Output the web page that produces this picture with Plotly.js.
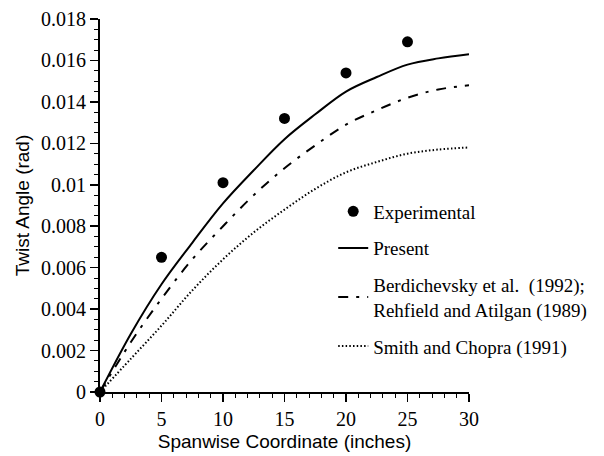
<!DOCTYPE html>
<html>
<head>
<meta charset="utf-8">
<script src="https://cdn.plot.ly/plotly-3.0.1.min.js"></script>
<style>html,body{margin:0;padding:0;background:#fff;}#chart{width:604px;height:456px;}</style>
</head>
<body>
<div id="chart"></div>
<script>
// Experimental data
const expX = [0, 5, 10, 15, 20, 25];
const expY = [0, 0.0065, 0.0101, 0.0132, 0.0154, 0.0169];

// Curves
const curveX = [0, 2.5, 5, 7.5, 10, 12.5, 15, 17.5, 20, 22.5, 25, 27.5, 30];
const presentY = [0, 0.0028, 0.0052, 0.0072, 0.0091, 0.0107, 0.0122, 0.0134, 0.0145, 0.0152, 0.0158, 0.0161, 0.0163];
const berdY    = [0, 0.0024, 0.0045, 0.0064, 0.0080, 0.0095, 0.0108, 0.0119, 0.0129, 0.0136, 0.0142, 0.0146, 0.0148];
const smithY   = [0, 0.0016, 0.0032, 0.0049, 0.0064, 0.0077, 0.0088, 0.0098, 0.0106, 0.0111, 0.0115, 0.0117, 0.0118];

const seriesNames = ['Experimental', 'Present', 'Berdichevsky et al.  (1992);<br>Rehfield and Atilgan (1989)', 'Smith and Chopra (1991)'];

const xTickVals = [0, 5, 10, 15, 20, 25, 30];
const yTickVals = [0, 0.002, 0.004, 0.006, 0.008, 0.01, 0.012, 0.014, 0.016, 0.018];
const yTickText = ['0', '0.002', '0.004', '0.006', '0.008', '0.01', '0.012', '0.014', '0.016', '0.018'];

const traces = [
  {x: expX, y: expY, name: seriesNames[0], mode: 'markers', type: 'scatter', legendgroup: 'a',
   marker: {color: '#000', size: 11}, cliponaxis: false},
  {x: curveX, y: presentY, name: seriesNames[1], mode: 'lines', type: 'scatter', legendgroup: 'b',
   line: {color: '#000', width: 2, shape: 'spline'}},
  {x: curveX, y: berdY, name: seriesNames[2], mode: 'lines', type: 'scatter', legendgroup: 'c',
   line: {color: '#000', width: 2, dash: '10px,8px,3px,8px', shape: 'spline'}},
  {x: curveX, y: smithY, name: seriesNames[3], mode: 'lines', type: 'scatter', legendgroup: 'd',
   line: {color: '#000', width: 2, dash: '1.5px,2.2px', shape: 'spline'}}
];

const serif = 'Liberation Serif, Times New Roman, serif';
const sans = 'Liberation Sans, Arial, sans-serif';

const layout = {
  width: 604, height: 456,
  margin: {l: 100, r: 135, t: 19, b: 64},
  paper_bgcolor: '#fff', plot_bgcolor: '#fff',
  showlegend: true,
  legend: {x: 0.632, y: 0.535, xanchor: 'left', yanchor: 'top', bgcolor: 'rgba(0,0,0,0)',
           font: {family: serif, size: 19, color: '#000'}, tracegroupgap: 9, itemwidth: 30},
  xaxis: {
    range: [0, 30], tickvals: xTickVals, ticks: 'outside', ticklen: 8, tickwidth: 1.5, tickcolor: '#000',
    showline: true, linecolor: '#000', linewidth: 2, showgrid: false, zeroline: false,
    tickfont: {family: serif, size: 20, color: '#000'},
    minor: {dtick: 1, ticks: 'outside', ticklen: 4, tickcolor: '#000', tickwidth: 1},
    title: {text: 'Spanwise Coordinate (inches)', font: {family: sans, size: 19, color: '#000'}, standoff: 6}
  },
  yaxis: {
    range: [0, 0.018], tickvals: yTickVals, ticktext: yTickText, ticks: 'outside', ticklen: 8, tickwidth: 1.5, tickcolor: '#000',
    showline: true, linecolor: '#000', linewidth: 2, showgrid: false, zeroline: false,
    tickfont: {family: serif, size: 20, color: '#000'},
    minor: {dtick: 0.0005, ticks: 'outside', ticklen: 4, tickcolor: '#000', tickwidth: 1},
    title: {text: 'Twist Angle (rad)', font: {family: sans, size: 19, color: '#000'}, standoff: 6}
  }
};

Plotly.newPlot('chart', traces, layout, {displayModeBar: false, staticPlot: true});
</script>
</body>
</html>
